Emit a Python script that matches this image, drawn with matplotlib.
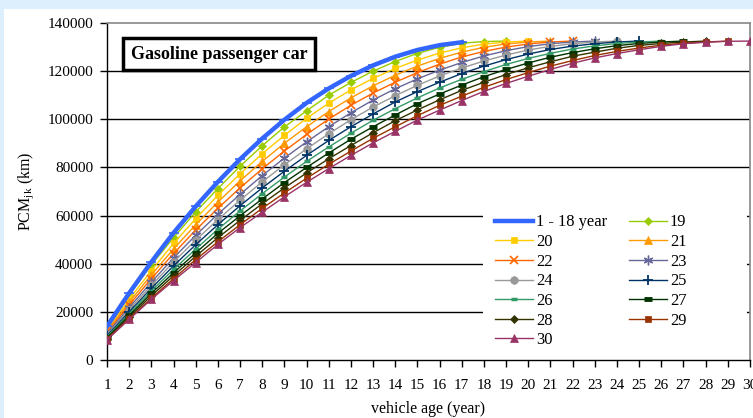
import numpy as np
import matplotlib.pyplot as plt
from matplotlib.patches import Rectangle

plt.rcParams['font.family'] = ['Liberation Serif', 'DejaVu Serif']
plt.rcParams['mathtext.fontset'] = 'custom'
plt.rcParams['mathtext.rm'] = 'Liberation Serif'

# ---------------------------------------------------------------------------
# PCM_jk cumulative mileage (km) per vehicle age, grouped by scrappage age
# ---------------------------------------------------------------------------
pcm_1_18 = [14000, 27800, 40700, 52800, 63800, 74000, 83400, 92000, 99800,
            106800, 112800, 118000, 122400, 126000, 128800, 130800, 132000]

pcm_19 = [13500, 27000, 39500, 50800, 61500, 71200, 80500, 89000, 96800,
          103500, 110000, 115300, 120000, 124000, 127400, 129900, 131600,
          132300, 132500]
pcm_20 = [12700, 25300, 37100, 48400, 58700, 68400, 77300, 85700, 93300,
          100400, 106700, 112200, 117000, 121100, 124600, 127500, 129700,
          131200, 132100, 132500]
pcm_21 = [12100, 24000, 35400, 46100, 56200, 65600, 74400, 82500, 90000,
          96900, 103200, 108900, 113900, 118300, 122100, 125300, 127900,
          129900, 131300, 132100, 132500]
pcm_22 = [11500, 22900, 33800, 44200, 54000, 63000, 71500, 79400, 86800,
          93700, 100100, 105800, 110900, 115400, 119400, 122900, 125900,
          128200, 130000, 131300, 132100, 132500]
pcm_23 = [11000, 21800, 32300, 42400, 51800, 60600, 68800, 76600, 83900,
          90600, 96900, 102700, 108000, 112700, 116800, 120400, 123600,
          126300, 128500, 130200, 131400, 132100, 132500]
pcm_24 = [10500, 20900, 31000, 40700, 49800, 58300, 66400, 74000, 81100,
          87700, 94000, 99800, 105100, 109800, 114100, 118000, 121300,
          124200, 126700, 128800, 130300, 131400, 132100, 132500]
pcm_25 = [10100, 20000, 29800, 39100, 47900, 56200, 64100, 71500, 78400,
          85000, 91200, 96900, 102200, 107200, 111500, 115400, 119000,
          122100, 124800, 127100, 129000, 130400, 131400, 132100, 132500]
pcm_26 = [9700, 19200, 28700, 37600, 46100, 54300, 61900, 69100, 76000,
          82500, 88500, 94200, 99600, 104400, 108900, 113000, 116600,
          119800, 122800, 125300, 127400, 129200, 130500, 131500, 132100,
          132500]
pcm_27 = [9300, 18500, 27700, 36200, 44500, 52600, 59900, 66900, 73700,
          80000, 86000, 91700, 96900, 101800, 106500, 110500, 114200,
          117700, 120700, 123400, 125800, 127700, 129300, 130600, 131500,
          132100, 132500]
pcm_28 = [8900, 17800, 26700, 35000, 43100, 50800, 58000, 64900, 71500,
          77700, 83600, 89100, 94400, 99400, 103900, 108100, 112000,
          115400, 118600, 121400, 123900, 126200, 127900, 129500, 130700,
          131500, 132100, 132500]
pcm_29 = [8600, 17200, 25700, 33800, 41700, 49100, 56200, 63000, 69400,
          75500, 81300, 86800, 92100, 96900, 101500, 105800, 109600,
          113300, 116500, 119400, 122100, 124400, 126500, 128200, 129600,
          130800, 131600, 132100, 132500]
pcm_30 = [8400, 16900, 25200, 33000, 40500, 48000, 55000, 61400, 67800,
          73800, 79500, 85000, 90200, 95000, 99700, 103800, 107800,
          111600, 114900, 117900, 120700, 123300, 125500, 127300, 128900,
          130300, 131400, 132000, 132400, 132500]

series_labels = ['19', '20', '21', '22', '23', '24', '25', '26', '27', '28', '29', '30']
series_values = [pcm_19, pcm_20, pcm_21, pcm_22, pcm_23, pcm_24,
                 pcm_25, pcm_26, pcm_27, pcm_28, pcm_29, pcm_30]

# estilo de cada serie: (color, marcador, tamaño, grosor borde)
estilos = [
    ('#99cc00', 'D', 4.5, 0.5),
    ('#ffcc00', 's', 5, 0.5),
    ('#ff9900', '^', 6, 0.5),
    ('#ff6600', 'x', 6, 1.2),
    ('#666699', (6, 2, 0), 7, 1.0),
    ('#999999', 'o', 5.5, 0.5),
    ('#003366', '+', 7, 1.3),
    ('#339966', '_', 4, 2.5),
    ('#003300', '_', 6, 3.5),
    ('#333300', 'D', 4.5, 0.5),
    ('#993300', 's', 5, 0.5),
    ('#993366', '^', 6, 0.5),
]

fig = plt.figure(figsize=(7.53, 4.18), dpi=100)
fig.patch.set_facecolor('#ddeefc')
fondo = Rectangle((4 / 753, 0), 1, 1 - 9 / 418, transform=fig.transFigure,
                  facecolor='white', edgecolor='none', zorder=-10)
fig.add_artist(fondo)

ax = fig.add_axes([107 / 753, 1 - 360 / 418, 643 / 753, 337 / 418])
ax.set_facecolor('white')

handles = {}
for lab, vals, (col, mk, ms, mew) in zip(series_labels, series_values, estilos):
    xs = np.arange(1, len(vals) + 1)
    h, = ax.plot(xs, vals, color=col, lw=1.0, marker=mk, markersize=ms,
                 markerfacecolor=col, markeredgecolor=col, markeredgewidth=mew,
                 label=lab, zorder=3)
    handles[lab] = h

xs = np.arange(1, len(pcm_1_18) + 1)
h_blue, = ax.plot(xs, pcm_1_18, color='#3366ff', lw=3.2, solid_capstyle='projecting',
                  marker='_', markersize=7, markeredgewidth=1.2,
                  markeredgecolor='#3366ff', label='1 - 18 year', zorder=4)

ax.set_xlim(1, 30)
ax.set_ylim(0, 140000)
ax.set_xticks(range(1, 31))
ax.set_yticks(range(0, 140001, 20000))
ax.tick_params(axis='both', direction='out', length=5, width=1, labelsize=11,
               colors='black')
ax.tick_params(axis='x', pad=9)
ax.tick_params(axis='y', pad=5)

for v in range(20000, 140000, 20000):
    ax.axhline(v, color='black', lw=1, zorder=1)

for s in ['left', 'bottom']:
    ax.spines[s].set_color('black')
    ax.spines[s].set_linewidth(1)
for s in ['top', 'right']:
    ax.spines[s].set_color('#888888')
    ax.spines[s].set_linewidth(1.2)

ax.set_ylabel(r'PCM$_{\mathrm{jk}}$ (km)', fontsize=11.5, labelpad=8)
ax.set_xlabel('vehicle age (year)', fontsize=11.5, labelpad=6)

ax.text(0.174, 0.908, 'Gasoline passenger car', transform=ax.transAxes,
        ha='center', va='center', fontsize=13, fontweight='bold', zorder=6,
        bbox=dict(boxstyle='square,pad=0.42', facecolor='white',
                  edgecolor='black', linewidth=2.5))

# fondo blanco de la leyenda (tapa la rejilla)
ax.add_patch(Rectangle((0.585, 0.024), 0.41, 0.436, transform=ax.transAxes,
                       facecolor='white', edgecolor='none', zorder=2))

# leyenda en dos columnas, llenado por filas
orden = [h_blue] + [handles[k] for k in ['20', '22', '24', '26', '28', '30']] \
        + [handles[k] for k in ['19', '21', '23', '25', '27', '29']]
ax.legend(handles=orden, labels=[h.get_label() for h in orden], ncol=2,
          loc='upper left', bbox_to_anchor=(0.603, 0.432), frameon=False,
          fontsize=11.9, handlelength=2.3, handletextpad=0.2,
          columnspacing=1.3, labelspacing=0.22, borderpad=0, borderaxespad=0)

fig.savefig('out.png', dpi=100, facecolor=fig.get_facecolor())
